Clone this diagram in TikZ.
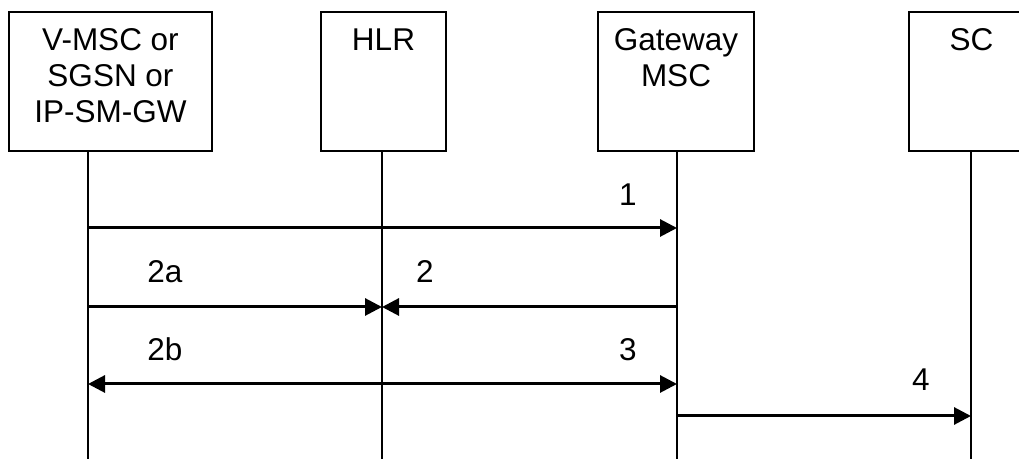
\documentclass[tikz,border=0pt]{standalone}
\usepackage{fontspec}
\setmainfont{Liberation Sans}
\usetikzlibrary{arrows.meta,positioning}

\begin{document}
\begin{tikzpicture}[x=0.5pt, y=-0.5pt,
  font=\fontsize{15.75pt}{18pt}\selectfont,
  ent/.style={draw=black, line width=1pt, minimum height=69.5pt, inner sep=0pt},
  etxt/.style={anchor=north, align=center, inner sep=0pt, yshift=-8.6pt},
  life/.style={draw=black, line width=1pt},
  msg/.style={draw=black, line width=1.5pt, -{Triangle[length=8.5pt, width=8.5pt]}},
  num/.style={anchor=base, inner sep=0pt}]
\clip (0,0) rectangle (1019,459);
\useasboundingbox (0,0) rectangle (1019,459);
% ---------------- entities
\node[ent, minimum width=101.5pt, label={[etxt]north:V-MSC or\\SGSN or\\IP-SM-GW}] (vmsc) at (110.5,81.5) {};
\node[ent, minimum width=62.5pt, label={[etxt]north:HLR}] (hlr) at (383.5,81.5) {};
\node[ent, minimum width=78pt, label={[etxt]north:Gateway\\MSC}] (gmsc) at (676,81.5) {};
\node[ent, minimum width=62.5pt, label={[etxt]north:SC}] (sc) at (971.5,81.5) {};
% ---------------- lifelines
\coordinate (vl) at (88,459);
\coordinate (hl) at (382,459);
\coordinate (gl) at (677,459);
\coordinate (sl) at (971,459);
\draw[life] (vmsc.south -| vl) -- (vl);
\draw[life] (hlr.south -| hl) -- (hl);
\draw[life] (gmsc.south -| gl) -- (gl);
\draw[life] (sc.south -| sl) -- (sl);
% ---------------- messages
\draw[msg] (vl |- 0,228) -- (gl |- 0,228);
\node[num] (n1) at (628,206) {1};
\draw[msg] (vl |- 0,307) -- (hl |- 0,307);
\node[num] (n2a) at (165,283) {2a};
\draw[msg] (gl |- 0,307) -- (hl |- 0,307);
\node[num] (n2) at (425,283) {2};
\draw[msg, {Triangle[length=8.5pt, width=8.5pt]}-{Triangle[length=8.5pt, width=8.5pt]}] (vl |- 0,384) -- (gl |- 0,384);
\node[num] (n2b) at (165,361) {2b};
\node[num] (n3) at (628,361) {3};
\draw[msg] (gl |- 0,416) -- (sl |- 0,416);
\node[num] (n4) at (921,391) {4};
\end{tikzpicture}
\end{document}
